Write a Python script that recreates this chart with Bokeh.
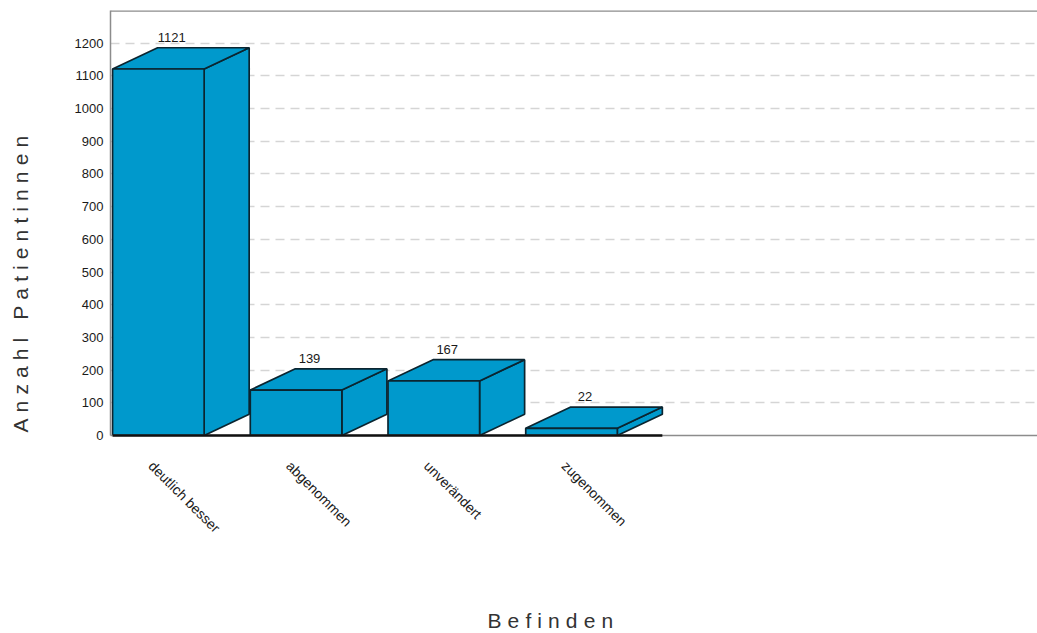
from bokeh.embed import file_html
from bokeh.resources import INLINE
from bokeh.plotting import figure
from bokeh.models import CustomJS, FixedTicker, Grid, LinearAxis, Range1d, Span, Title
from bokeh.core.properties import value
from bokeh.document import Document
import math

categories = ["deutlich besser", "abgenommen", "unverändert", "zugenommen"]
counts = [1121, 139, 167, 22]
y_ticks = [0, 100, 200, 300, 400, 500, 600, 700, 800, 900, 1000, 1100, 1200]
y_title = "Anzahl Patientinnen"
x_title = "Befinden"

FONT = "Liberation Sans"
BLUE = "#0099cc"
EDGE = "#0b2530"
AXIS = "#8c8c8c"

# Bars are one slot apart on the x scale; the oblique faces are shifted
# by a fixed depth in both scale directions.
BAR_W = 0.665
DEPTH_X = 0.327
DEPTH_Y = 65
Y_MAX = 1300
X_MIN = -0.015
X_MAX = 6.716

p = figure(width=1037, height=633, output_backend="svg", toolbar_location=None,
           x_range=Range1d(X_MIN, X_MAX), y_range=Range1d(0, Y_MAX),
           x_axis_type=None, y_axis_type=None,
           min_border_left=110, min_border_right=0, min_border_top=10, min_border_bottom=198)
p.outline_line_color = None
p.background_fill_color = "white"

y_axis = LinearAxis(ticker=FixedTicker(ticks=y_ticks))
y_axis.axis_line_color = AXIS
y_axis.axis_line_width = 1.5
y_axis.major_tick_line_color = None
y_axis.minor_tick_line_color = None
y_axis.major_label_standoff = 1
y_axis.major_label_text_font = FONT
y_axis.major_label_text_font_size = "13px"
y_axis.major_label_text_color = "#1a1a1a"
p.add_layout(y_axis, "left")

tick_x = [i + 0.28 for i in range(len(categories))]
x_axis = LinearAxis(ticker=FixedTicker(ticks=tick_x))
x_axis.major_label_overrides = dict(zip(tick_x, categories))
x_axis.major_label_orientation = -math.pi / 4
x_axis.axis_line_color = AXIS
x_axis.axis_line_width = 1.5
x_axis.major_tick_line_color = None
x_axis.minor_tick_line_color = None
x_axis.major_label_standoff = 22
x_axis.major_label_text_font = FONT
x_axis.major_label_text_font_size = "14px"
x_axis.major_label_text_color = "#1a1a1a"
p.add_layout(x_axis, "below")


def spacer_axis(extent, tick):
    """An axis whose only tick is transparent, used to push a title outward."""
    return LinearAxis(ticker=FixedTicker(ticks=[tick]), major_label_overrides={tick: ""},
                      axis_line_color=None, minor_tick_line_color=None,
                      major_tick_line_color="white", major_tick_line_alpha=0,
                      major_tick_in=0, major_tick_out=extent, minor_tick_out=0,
                      major_label_standoff=0, major_label_text_font_size="1px")


p.add_layout(spacer_axis(34, 600), "left")
p.add_layout(spacer_axis(62, 3), "below")

grid = Grid(dimension=1, ticker=FixedTicker(ticks=y_ticks))
grid.grid_line_color = "#d5d5d5"
grid.grid_line_dash = "9 6"
grid.grid_line_width = 1.3
p.add_layout(grid)

p.add_layout(Span(location=Y_MAX, dimension="width", line_color=AXIS, line_width=2.5))

lefts = list(range(len(counts)))
rights = [x + BAR_W for x in lefts]

# Oblique side faces
p.patches(
    [[r, r + DEPTH_X, r + DEPTH_X, r] for r in rights],
    [[0, DEPTH_Y, v + DEPTH_Y, v] for v in counts],
    fill_color=BLUE, line_color=EDGE, line_width=1.7,
)
# Oblique top faces
p.patches(
    [[l, l + DEPTH_X, r + DEPTH_X, r] for l, r in zip(lefts, rights)],
    [[v, v + DEPTH_Y, v + DEPTH_Y, v] for v in counts],
    fill_color=BLUE, line_color=EDGE, line_width=1.7,
)
# Front faces
p.quad(left=lefts, right=rights, bottom=0, top=counts,
       fill_color=BLUE, line_color=EDGE, line_width=1.7)

# Heavy baseline under the bars, drawn over the axis line
p.segment(x0=[lefts[0]], x1=[rights[-1] + DEPTH_X], y0=[0], y1=[0],
          line_color="#111111", line_width=2.5, level="overlay")

p.text(x=[l + 0.43 for l in lefts], y=[v + DEPTH_Y for v in counts],
       text=[str(v) for v in counts], y_offset=-6,
       text_align="center", text_baseline="bottom",
       text_font=value(FONT), text_font_size="13px", text_color="#1a1a1a")

# Axis titles start at fixed offsets from the frame's corner rather than its centre.
p.add_layout(Title(text=y_title, align="left", offset=3, standoff=12,
                   text_font=FONT, text_font_size="21px", text_font_style="normal",
                   text_color="#333333"), "left")
p.add_layout(Title(text=x_title, align="left", offset=377, standoff=0,
                   text_font=FONT, text_font_size="21px", text_font_style="normal",
                   text_color="#333333"), "below")

# Track the two axis titles out once the SVG text nodes exist.
track_titles = CustomJS(args=dict(titles=[y_title, x_title], spacing="6.1px"), code="""
    function walk(root, out) {
        root.querySelectorAll("*").forEach((el) => {
            if (el.tagName.toLowerCase() === "text" && titles.includes(el.textContent)) out.push(el)
            if (el.shadowRoot) walk(el.shadowRoot, out)
        })
        return out
    }
    function apply() {
        const found = walk(document, [])
        found.forEach((el) => { el.style.letterSpacing = spacing; el.setAttribute("letter-spacing", spacing) })
        return found.length
    }
    let tries = 0
    const timer = setInterval(() => {
        apply()
        if (++tries > 20) clearInterval(timer)
    }, 50)
""")

doc = Document()
doc.add_root(p)
doc.js_on_event("document_ready", track_titles)

open("out.html", "w").write(file_html(doc, INLINE))
